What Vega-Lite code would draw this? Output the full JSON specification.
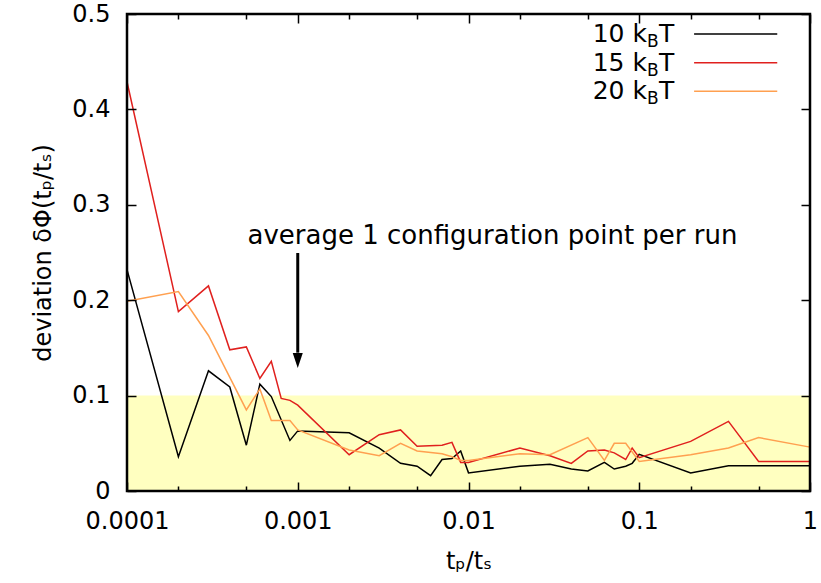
{
  "$schema": "https://vega.github.io/schema/vega-lite/v6.json",
  "width": 683,
  "height": 477,
  "autosize": {"type": "none"},
  "padding": {"left": 127, "top": 14, "right": 11, "bottom": 92},
  "background": "white",
  "config": {
    "view": {"stroke": null},
    "font": "DejaVu Sans, sans-serif"
  },
  "datasets": {
    "band": [{"x1": 0.0001, "x2": 1, "y1": 0, "y2": 0.1, "ytop": 0.5}],
    "curves": [
      {"series": "10", "x": 0.0001, "y": 0.232},
      {"series": "10", "x": 0.0002, "y": 0.036},
      {"series": "10", "x": 0.0003, "y": 0.126},
      {"series": "10", "x": 0.0004, "y": 0.109},
      {"series": "10", "x": 0.0005, "y": 0.048},
      {"series": "10", "x": 0.0006, "y": 0.112},
      {"series": "10", "x": 0.0007, "y": 0.099},
      {"series": "10", "x": 0.0009, "y": 0.053},
      {"series": "10", "x": 0.001, "y": 0.063},
      {"series": "10", "x": 0.002, "y": 0.061},
      {"series": "10", "x": 0.003, "y": 0.045},
      {"series": "10", "x": 0.004, "y": 0.029},
      {"series": "10", "x": 0.005, "y": 0.026},
      {"series": "10", "x": 0.006, "y": 0.016},
      {"series": "10", "x": 0.007, "y": 0.033},
      {"series": "10", "x": 0.008, "y": 0.034},
      {"series": "10", "x": 0.009, "y": 0.042},
      {"series": "10", "x": 0.01, "y": 0.019},
      {"series": "10", "x": 0.02, "y": 0.026},
      {"series": "10", "x": 0.03, "y": 0.028},
      {"series": "10", "x": 0.04, "y": 0.023},
      {"series": "10", "x": 0.05, "y": 0.021},
      {"series": "10", "x": 0.0625, "y": 0.030},
      {"series": "10", "x": 0.0714, "y": 0.023},
      {"series": "10", "x": 0.0833, "y": 0.026},
      {"series": "10", "x": 0.0909, "y": 0.029},
      {"series": "10", "x": 0.1, "y": 0.0385},
      {"series": "10", "x": 0.2, "y": 0.019},
      {"series": "10", "x": 0.333, "y": 0.0265},
      {"series": "10", "x": 0.5, "y": 0.0265},
      {"series": "10", "x": 1, "y": 0.0265},
      {"series": "15", "x": 0.0001, "y": 0.429},
      {"series": "15", "x": 0.0002, "y": 0.188},
      {"series": "15", "x": 0.0003, "y": 0.215},
      {"series": "15", "x": 0.0004, "y": 0.148},
      {"series": "15", "x": 0.0005, "y": 0.151},
      {"series": "15", "x": 0.0006, "y": 0.118},
      {"series": "15", "x": 0.0007, "y": 0.136},
      {"series": "15", "x": 0.0008, "y": 0.097},
      {"series": "15", "x": 0.0009, "y": 0.095},
      {"series": "15", "x": 0.001, "y": 0.090},
      {"series": "15", "x": 0.002, "y": 0.038},
      {"series": "15", "x": 0.003, "y": 0.059},
      {"series": "15", "x": 0.004, "y": 0.064},
      {"series": "15", "x": 0.005, "y": 0.047},
      {"series": "15", "x": 0.007, "y": 0.048},
      {"series": "15", "x": 0.008, "y": 0.051},
      {"series": "15", "x": 0.009, "y": 0.030},
      {"series": "15", "x": 0.01, "y": 0.030},
      {"series": "15", "x": 0.02, "y": 0.045},
      {"series": "15", "x": 0.03, "y": 0.037},
      {"series": "15", "x": 0.04, "y": 0.029},
      {"series": "15", "x": 0.05, "y": 0.042},
      {"series": "15", "x": 0.0625, "y": 0.043},
      {"series": "15", "x": 0.0714, "y": 0.040},
      {"series": "15", "x": 0.0833, "y": 0.033},
      {"series": "15", "x": 0.0909, "y": 0.045},
      {"series": "15", "x": 0.1, "y": 0.035},
      {"series": "15", "x": 0.2, "y": 0.052},
      {"series": "15", "x": 0.333, "y": 0.073},
      {"series": "15", "x": 0.5, "y": 0.031},
      {"series": "15", "x": 1, "y": 0.031},
      {"series": "20", "x": 0.0001, "y": 0.199},
      {"series": "20", "x": 0.0002, "y": 0.209},
      {"series": "20", "x": 0.0003, "y": 0.163},
      {"series": "20", "x": 0.0005, "y": 0.085},
      {"series": "20", "x": 0.0006, "y": 0.107},
      {"series": "20", "x": 0.0007, "y": 0.074},
      {"series": "20", "x": 0.0009, "y": 0.074},
      {"series": "20", "x": 0.001, "y": 0.064},
      {"series": "20", "x": 0.002, "y": 0.043},
      {"series": "20", "x": 0.003, "y": 0.037},
      {"series": "20", "x": 0.004, "y": 0.050},
      {"series": "20", "x": 0.005, "y": 0.042},
      {"series": "20", "x": 0.007, "y": 0.039},
      {"series": "20", "x": 0.008, "y": 0.036},
      {"series": "20", "x": 0.009, "y": 0.032},
      {"series": "20", "x": 0.01, "y": 0.032},
      {"series": "20", "x": 0.02, "y": 0.039},
      {"series": "20", "x": 0.03, "y": 0.038},
      {"series": "20", "x": 0.05, "y": 0.056},
      {"series": "20", "x": 0.0625, "y": 0.032},
      {"series": "20", "x": 0.0714, "y": 0.050},
      {"series": "20", "x": 0.0833, "y": 0.050},
      {"series": "20", "x": 0.1, "y": 0.031},
      {"series": "20", "x": 0.2, "y": 0.038},
      {"series": "20", "x": 0.333, "y": 0.045},
      {"series": "20", "x": 0.5, "y": 0.056},
      {"series": "20", "x": 1, "y": 0.046}
    ],
    "legend": [
      {"series": "10", "pre": "10 k", "y": 0.479, "x0": 0.1109, "xa": 0.2095, "xb": 0.643},
      {"series": "15", "pre": "15 k", "y": 0.449, "x0": 0.1109, "xa": 0.2095, "xb": 0.643},
      {"series": "20", "pre": "20 k", "y": 0.419, "x0": 0.1109, "xa": 0.2095, "xb": 0.643}
    ],
    "note": [
      {"x": 0.000508, "y": 0.259, "text": "average 1 configuration point per run", "ax": 0.001, "ay1": 0.2495, "ay2": 0.145, "tip": 0.129}
    ]
  },
  "layer": [
    {
      "data": {"name": "band"},
      "mark": {"type": "rect", "fill": "#ffffc0"},
      "encoding": {
        "x": {
          "field": "x1", "type": "quantitative",
          "scale": {"type": "log", "domain": [0.0001, 1], "nice": false},
          "axis": {
            "orient": "bottom",
            "values": [0.0001, 0.0002, 0.0005, 0.001, 0.002, 0.005, 0.01, 0.02, 0.05, 0.1, 0.2, 0.5, 1],
            "labelExpr": "abs(log(datum.value)/LN10 - round(log(datum.value)/LN10)) < 0.01 ? format(datum.value, '~g') : ''",
            "tickSize": {"condition": {"test": "abs(log(datum.value)/LN10 - round(log(datum.value)/LN10)) < 0.01", "value": -9}, "value": -5},
            "tickColor": "#000", "tickWidth": 1.5,
            "labelPadding": 27, "labelFlush": false, "labelOverlap": false,
            "labelFontSize": 24, "labelColor": "#000",
            "domain": false, "grid": false, "zindex": 2,
            "title": "tₚ/tₛ", "titleFontSize": 24, "titleFontWeight": "normal", "titleColor": "#000", "titlePadding": 12
          }
        },
        "x2": {"field": "x2"},
        "y": {
          "field": "y1", "type": "quantitative",
          "scale": {"domain": [0, 0.5], "nice": false, "zero": true},
          "axis": {
            "orient": "left",
            "values": [0, 0.1, 0.2, 0.3, 0.4, 0.5],
            "format": ".1~f",
            "tickSize": -9, "tickColor": "#000", "tickWidth": 1.5,
            "labelPadding": 26, "labelFlush": false, "labelOverlap": false,
            "labelFontSize": 24, "labelColor": "#000",
            "domain": false, "grid": false, "zindex": 2,
            "title": "deviation δΦ(tₚ/tₛ)", "titleFontSize": 24, "titleFontWeight": "normal", "titleColor": "#000", "titlePadding": 16
          }
        },
        "y2": {"field": "y2"}
      }
    },
    {
      "data": {"name": "curves"},
      "mark": {"type": "line", "strokeWidth": 1.5},
      "encoding": {
        "x": {
          "field": "x", "type": "quantitative",
          "axis": {
            "orient": "top",
            "values": [0.0001, 0.0002, 0.0005, 0.001, 0.002, 0.005, 0.01, 0.02, 0.05, 0.1, 0.2, 0.5, 1],
            "labels": false,
            "tickSize": {"condition": {"test": "abs(log(datum.value)/LN10 - round(log(datum.value)/LN10)) < 0.01", "value": -9}, "value": -5},
            "tickColor": "#000", "tickWidth": 1.5,
            "domain": false, "grid": false, "zindex": 2, "title": null
          }
        },
        "y": {
          "field": "y", "type": "quantitative",
          "axis": {
            "orient": "right",
            "values": [0, 0.1, 0.2, 0.3, 0.4, 0.5],
            "labels": false,
            "tickSize": -9, "tickColor": "#000", "tickWidth": 1.5,
            "domain": false, "grid": false, "zindex": 2, "title": null
          }
        },
        "color": {
          "field": "series", "type": "nominal",
          "scale": {"domain": ["10", "15", "20"], "range": ["#000000", "#e0201e", "#ffa050"]},
          "legend": null
        },
        "order": {"field": "x", "type": "quantitative"}
      }
    },
    {
      "data": {"name": "legend"},
      "mark": {"type": "rule", "strokeWidth": 1.5},
      "encoding": {
        "x": {"field": "xa", "type": "quantitative", "axis": null},
        "x2": {"field": "xb"},
        "y": {"field": "y", "type": "quantitative", "axis": null},
        "color": {"field": "series", "type": "nominal", "legend": null}
      }
    },
    {
      "data": {"name": "legend"},
      "mark": {"type": "text", "align": "right", "baseline": "middle", "fontSize": 25, "color": "#000"},
      "encoding": {
        "x": {"field": "x0", "type": "quantitative", "axis": null},
        "y": {"field": "y", "type": "quantitative", "axis": null},
        "text": {"field": "pre"}
      }
    },
    {
      "data": {"name": "legend"},
      "mark": {"type": "text", "align": "left", "baseline": "middle", "fontSize": 17, "dy": 8, "color": "#000"},
      "encoding": {
        "x": {"field": "x0", "type": "quantitative", "axis": null},
        "y": {"field": "y", "type": "quantitative", "axis": null},
        "text": {"value": "B"}
      }
    },
    {
      "data": {"name": "legend"},
      "mark": {"type": "text", "align": "left", "baseline": "middle", "fontSize": 25, "dx": 12, "color": "#000"},
      "encoding": {
        "x": {"field": "x0", "type": "quantitative", "axis": null},
        "y": {"field": "y", "type": "quantitative", "axis": null},
        "text": {"value": "T"}
      }
    },
    {
      "data": {"name": "note"},
      "mark": {"type": "text", "align": "left", "baseline": "alphabetic", "fontSize": 26, "color": "#000"},
      "encoding": {
        "x": {"field": "x", "type": "quantitative", "axis": null},
        "y": {"field": "y", "type": "quantitative", "axis": null},
        "text": {"field": "text"}
      }
    },
    {
      "data": {"name": "note"},
      "mark": {"type": "rule", "strokeWidth": 3, "color": "#000"},
      "encoding": {
        "x": {"field": "ax", "type": "quantitative", "axis": null},
        "y": {"field": "ay1", "type": "quantitative", "axis": null},
        "y2": {"field": "ay2"}
      }
    },
    {
      "data": {"name": "note"},
      "mark": {"type": "point", "shape": "M-0.67,-2L0.67,-2L0,0Z", "size": 225, "filled": true, "color": "#000", "opacity": 1},
      "encoding": {
        "x": {"field": "ax", "type": "quantitative", "axis": null},
        "y": {"field": "tip", "type": "quantitative", "axis": null}
      }
    },
    {
      "data": {"name": "band"},
      "mark": {"type": "rect", "fill": null, "fillOpacity": 0, "stroke": "#000", "strokeWidth": 2.5},
      "encoding": {
        "x": {"field": "x1", "type": "quantitative", "axis": null},
        "x2": {"field": "x2"},
        "y": {"field": "y1", "type": "quantitative", "axis": null},
        "y2": {"field": "ytop"}
      }
    }
  ],
  "resolve": {"axis": {"x": "independent", "y": "independent"}}
}
